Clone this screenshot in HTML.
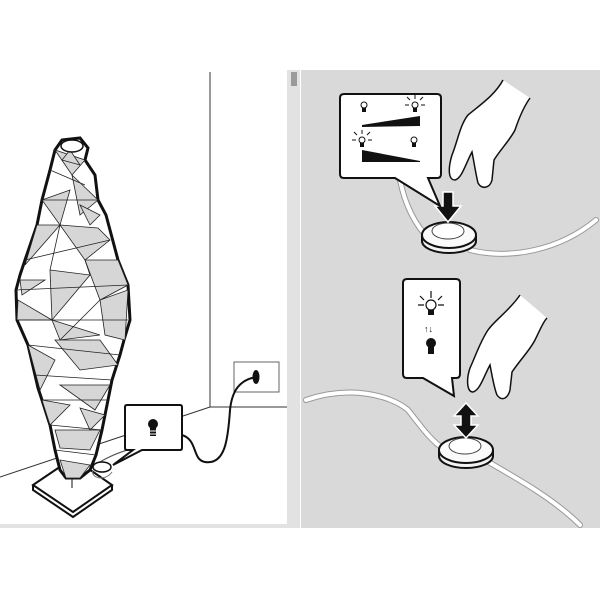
<!DOCTYPE html>
<html><head><meta charset="utf-8"><style>
html,body{margin:0;padding:0;background:#fff;width:600px;height:600px;overflow:hidden}
</style></head><body>
<svg width="600" height="600" viewBox="0 0 600 600" xmlns="http://www.w3.org/2000/svg" font-family="Liberation Sans, sans-serif">
<rect width="600" height="600" fill="#fff"/>
<rect x="287" y="70" width="13" height="458" fill="#e2e2e2"/>
<rect x="0" y="524" width="300" height="4" fill="#e2e2e2"/>
<rect x="291" y="72" width="6" height="14" fill="#9a9a9a"/>
<rect x="301" y="70" width="299" height="458" fill="#d9d9d9"/>
<g stroke="#333" stroke-width="1" fill="none">
<line x1="210" y1="72" x2="210" y2="407"/>
<line x1="210" y1="407" x2="287" y2="407"/>
<line x1="210" y1="407" x2="0" y2="477"/>
<rect x="234" y="362" width="45" height="30" stroke="#666"/>
</g>
<ellipse cx="256" cy="377" rx="3.5" ry="7" fill="#111"/>
<path d="M256 377 C240 380 232 390 230 410 C228 440 225 465 205 462 C192 460 198 440 182 435" stroke="#111" stroke-width="2" fill="none"/>
<path d="M100 462 C120 450 140 447 160 440" stroke="#555" stroke-width="1.2" fill="none"/>
<path d="M33 485 L73 458 L112 485 L73 512 Z" fill="#fff" stroke="#111" stroke-width="2"/>
<path d="M33 485 L33 490 L73 517 L112 490 L112 485" fill="none" stroke="#111" stroke-width="2"/>
<line x1="72" y1="478" x2="72" y2="488" stroke="#888" stroke-width="2"/>
<path d="M62 140 L80 138 L88 148 L85 160 L95 175 L98 200 L106 215 L110 230 L118 260 L128 285 L130 320 L124 340 L120 355 L112 380 L108 400 L105 415 L102 430 L96 455 L90 470 L80 478 L66 478 L60 470 L55 450 L50 425 L42 400 L38 388 L35 375 L28 345 L17 320 L16 290 L20 275 L25 260 L37 225 L42 200 L46 185 L50 170 L55 150 Z" fill="#fff" stroke="#111" stroke-width="3"/>
<g fill="#d6d6d6" stroke="#222" stroke-width="0.8">
<path d="M55 150 L72 175 L85 160 Z"/>
<path d="M62 160 L80 165 L70 150 Z"/>
<path d="M42 200 L70 190 L60 225 Z"/>
<path d="M72 175 L98 200 L80 215 Z"/>
<path d="M60 225 L98 228 L110 240 L85 260 Z"/>
<path d="M37 225 L60 225 L25 265 Z"/>
<path d="M85 260 L118 260 L128 285 L100 300 Z"/>
<path d="M50 270 L90 275 L52 320 Z"/>
<path d="M17 320 L52 320 L18 300 Z"/>
<path d="M100 300 L128 290 L125 340 L105 335 Z"/>
<path d="M52 320 L100 335 L60 340 Z"/>
<path d="M55 340 L100 340 L118 365 L80 370 Z"/>
<path d="M28 345 L55 360 L40 390 Z"/>
<path d="M60 385 L110 385 L95 410 Z"/>
<path d="M42 400 L70 405 L50 425 Z"/>
<path d="M55 430 L100 430 L90 450 L60 448 Z"/>
<path d="M60 460 L90 465 L80 478 L66 478 Z"/>
<path d="M80 408 L105 415 L90 430 Z"/>
<path d="M20 280 L45 280 L22 295 Z"/>
<path d="M80 205 L100 215 L90 225 Z"/>
</g>
<g stroke="#222" stroke-width="0.8" fill="none">
<path d="M50 170 L85 185 M42 200 L98 200 M25 260 L110 240 M16 290 L128 285 M17 320 L128 320 M28 345 L120 355 M35 375 L112 380 M42 400 L108 400 M50 425 L102 430 M55 450 L96 455 M60 225 L50 270 M90 275 L85 260 M60 340 L100 300"/>
</g>
<ellipse cx="72" cy="146" rx="11" ry="6" fill="#fff" stroke="#111" stroke-width="1.5"/>
<ellipse cx="102" cy="467" rx="9" ry="5" fill="#fff" stroke="#111" stroke-width="1.5"/>
<path d="M93 470 C90 478 105 482 112 472" fill="none" stroke="#777"/>
<path d="M127 405 L180 405 Q182 405 182 407 L182 448 Q182 450 180 450 L142 450 L113 465 L133 450 L127 450 Q125 450 125 448 L125 407 Q125 405 127 405 Z" fill="#fff" stroke="#111" stroke-width="2"/>
<circle cx="153" cy="424" r="5" fill="#111"/>
<rect x="150" y="428" width="6" height="8" fill="#111"/>
<line x1="150" y1="431" x2="156" y2="431" stroke="#fff" stroke-width="1"/>
<line x1="150" y1="434" x2="156" y2="434" stroke="#fff" stroke-width="1"/>

<g stroke="#999" stroke-width="6" fill="none" stroke-linecap="round"><path d="M400 180 C405 205 415 225 430 240"/><path d="M470 250 C510 260 560 250 596 220"/>
<path d="M306 400 C350 385 390 395 408 410 C420 425 430 440 445 450"/><path d="M485 460 C520 480 555 500 580 525"/></g>
<g stroke="#fff" stroke-width="4" fill="none" stroke-linecap="round"><path d="M400 180 C405 205 415 225 430 240"/><path d="M470 250 C510 260 560 250 596 220"/>
<path d="M306 400 C350 385 390 395 408 410 C420 425 430 440 445 450"/><path d="M485 460 C520 480 555 500 580 525"/></g>
<path d="M422 235 L422 241 A27 12 0 0 0 476 241 L476 235" fill="#f2f2f2" stroke="#111" stroke-width="2"/>
<ellipse cx="449" cy="235" rx="27" ry="13" fill="#fafafa" stroke="#111" stroke-width="2"/>
<ellipse cx="448" cy="231" rx="16" ry="8" fill="#fff" stroke="#444" stroke-width="1"/>
<path d="M443 192 L453 192 L453 206 L461 206 L448 222 L435 206 L443 206 Z" fill="#111" stroke="#fff" stroke-width="1.5"/>
<path d="M344 94 L437 94 Q441 94 441 98 L441 174 Q441 178 437 178 L428 178 L440 206 L395 178 L344 178 Q340 178 340 174 L340 98 Q340 94 344 94 Z" fill="#fff" stroke="#111" stroke-width="2"/>
<g fill="#111"><path d="M362 125 L420 116 L420 126 L362 127 Z"/><path d="M362 150 L420 161 L420 162 L362 162 Z"/></g>
<g stroke="#111" stroke-width="1" fill="none">
<circle cx="364" cy="105" r="3"/><circle cx="415" cy="105" r="3"/><circle cx="362" cy="140" r="3"/><circle cx="414" cy="140" r="3"/>
<path d="M410 100 L407 97 M415 99 L415 95 M420 100 L423 97 M409 105 L405 105 M421 105 L425 105 M357 135 L354 132 M362 134 L362 130 M367 135 L370 132 M356 140 L352 140 M368 140 L372 140"/>
</g>
<g fill="#111"><rect x="362" y="108" width="4" height="4"/><rect x="413" y="108" width="4" height="4"/><rect x="360" y="143" width="4" height="4"/><rect x="412" y="143" width="4" height="4"/></g>
<path d="M503 80 C495 95 480 105 468 115 C460 125 458 140 452 155 C448 168 448 180 455 180 C462 178 465 165 472 152 C474 162 476 175 478 183 C482 190 490 188 492 180 L494 160 C500 150 510 140 515 130 C520 115 525 105 530 98" fill="#fff" stroke="#111" stroke-width="1.5"/>
<path d="M439 450 L439 456 A27 12 0 0 0 493 456 L493 450" fill="#f2f2f2" stroke="#111" stroke-width="2"/>
<ellipse cx="466" cy="450" rx="27" ry="13" fill="#fafafa" stroke="#111" stroke-width="2"/>
<ellipse cx="465" cy="446" rx="16" ry="8" fill="#fff" stroke="#444" stroke-width="1"/>
<path d="M466 403 L478 416 L471 416 L471 425 L478 425 L466 438 L454 425 L461 425 L461 416 L454 416 Z" fill="#111" stroke="#fff" stroke-width="1.5"/>
<path d="M407 279 L456 279 Q460 279 460 283 L460 374 Q460 378 456 378 L452 378 L454 396 L423 378 L407 378 Q403 378 403 374 L403 283 Q403 279 407 279 Z" fill="#fff" stroke="#111" stroke-width="2"/>
<g stroke="#111" stroke-width="1.2" fill="none"><circle cx="431" cy="305" r="5"/><path d="M431 298 L431 291 M424 300 L420 296 M438 300 L442 296 M424 305 L418 305 M438 305 L444 305"/></g>
<rect x="428" y="310" width="6" height="5" fill="#111"/>
<text x="424" y="332" font-size="9" font-weight="bold" fill="#111">↑↓</text>
<circle cx="431" cy="343" r="5" fill="#111"/><rect x="428" y="347" width="6" height="7" fill="#111"/>
<path d="M520 295 C510 310 495 320 488 330 C480 342 476 355 470 368 C466 380 467 392 473 392 C480 390 483 378 490 365 C492 375 494 388 497 395 C502 402 508 398 510 390 L512 372 C520 360 530 350 535 340 C540 330 543 322 547 318" fill="#fff" stroke="#111" stroke-width="1.5"/>
</svg>
</body></html>
